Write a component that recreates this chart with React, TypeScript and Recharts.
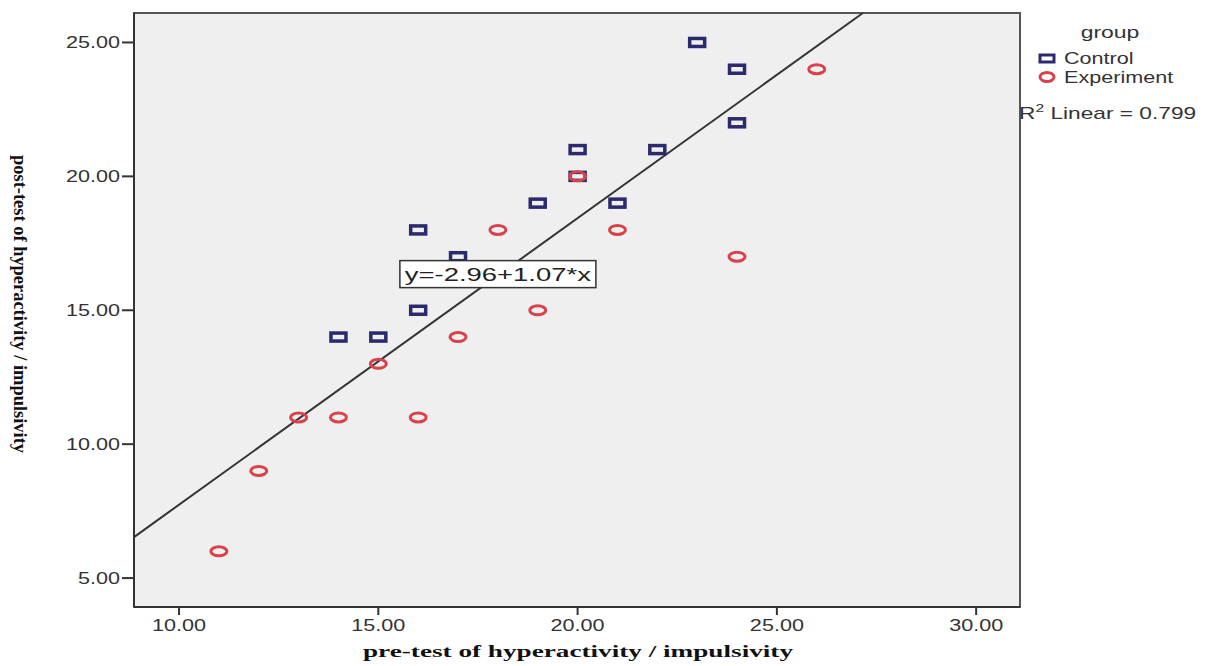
import { ScatterChart, Scatter, XAxis, YAxis, ReferenceArea, ReferenceLine, ReferenceDot } from "recharts";

// pre-test (x) and post-test (y) scores per group
const controlPre = [23, 24, 24, 20, 22, 20, 19, 21, 16, 17, 16, 14, 15];
const controlPost = [25, 24, 22, 21, 21, 20, 19, 19, 18, 17, 15, 14, 14];
const experimentPre = [26, 20, 18, 21, 24, 19, 17, 15, 13, 14, 16, 12, 11];
const experimentPost = [24, 20, 18, 18, 17, 15, 14, 13, 11, 11, 11, 9, 6];

const xTicks = [10, 15, 20, 25, 30];
const yTicks = [5, 10, 15, 20, 25];

// linear fit from the picture
const intercept = -2.96;
const slope = 1.07;
const rSquared = 0.799;

const xDomain: [number, number] = [8.87, 31.1];
const yDomain: [number, number] = [3.92, 26.1];

const control = controlPre.map((x, i) => ({ x, y: controlPost[i] }));
const experiment = experimentPre.map((x, i) => ({ x, y: experimentPost[i] }));

const fitStart = { x: xDomain[0], y: intercept + slope * xDomain[0] };
const fitEnd = { x: (yDomain[1] - intercept) / slope, y: yDomain[1] };

const NAVY = "#2a2a6c";
const RED = "#d8434b";
const SANS = "'Liberation Sans', Arial, sans-serif";
const SERIF = "'Liberation Serif', 'Times New Roman', serif";

function Stretch({ x, y, sx, anchor = "start", size = 17, weight = "normal", family = SANS, fill = "#333", children }: any) {
  return (
    <g transform={`translate(${x},${y}) scale(${sx},1)`}>
      <text x={0} y={0} textAnchor={anchor} fontSize={size} fontWeight={weight} fontFamily={family} fill={fill}>
        {children}
      </text>
    </g>
  );
}

const XTick = (props: any) => (
  <Stretch x={props.x} y={props.y + 14} sx={1.35} anchor="middle" size={16}>
    {props.payload.value.toFixed(2)}
  </Stretch>
);

const YTick = (props: any) => (
  <Stretch x={props.x} y={props.y + 6} sx={1.35} anchor="end" size={16}>
    {props.payload.value.toFixed(2)}
  </Stretch>
);

const square = (props: any) => (
  <rect x={props.cx - 7.5} y={props.cy - 4} width={15} height={8} fill="none" stroke={NAVY} strokeWidth={3.5} />
);

const ring = (props: any) => (
  <ellipse cx={props.cx} cy={props.cy} rx={8} ry={4.5} fill="none" stroke={RED} strokeWidth={3} />
);

const equationBox = (props: any) => (
  <g>
    <rect x={props.cx - 98} y={props.cy - 13.5} width={196} height={27} fill="#fff" stroke="#333" strokeWidth={1.5} />
    <text
      x={props.cx}
      y={props.cy + 7}
      textAnchor="middle"
      fontSize={18}
      fontFamily={SANS}
      fill="#222"
      textLength={186}
      lengthAdjust="spacingAndGlyphs"
    >
      {`y=${intercept.toFixed(2)}+${slope.toFixed(2)}*x`}
    </text>
  </g>
);

export default function App() {
  return (
    <div style={{ position: "absolute", left: 0, top: 0, width: 1221, height: 666, background: "#fff" }}>
      <ScatterChart width={1221} height={666} margin={{ top: 13, right: 201, bottom: 0, left: 0 }}>
        <XAxis
          type="number"
          dataKey="x"
          domain={xDomain}
          ticks={xTicks}
          allowDataOverflow
          height={59}
          tickSize={8}
          tick={XTick}
          axisLine={{ stroke: "#333", strokeWidth: 2 }}
          tickLine={{ stroke: "#333", strokeWidth: 2 }}
        />
        <YAxis
          type="number"
          dataKey="y"
          domain={yDomain}
          ticks={yTicks}
          allowDataOverflow
          width={134}
          tickSize={12}
          tick={YTick}
          axisLine={{ stroke: "#333", strokeWidth: 2 }}
          tickLine={{ stroke: "#333", strokeWidth: 2 }}
        />
        <ReferenceArea
          x1={xDomain[0]}
          x2={xDomain[1]}
          y1={yDomain[0]}
          y2={yDomain[1]}
          fill="#efefef"
          fillOpacity={1}
          stroke="#555"
          strokeWidth={2}
        />
        <ReferenceLine segment={[fitStart, fitEnd]} stroke="#333" strokeWidth={2} />
        <Scatter name="Control" data={control} shape={square} isAnimationActive={false} />
        <Scatter name="Experiment" data={experiment} shape={ring} isAnimationActive={false} />
        <ReferenceDot x={18} y={16.35} shape={equationBox} />
      </ScatterChart>
      <svg width={1221} height={666} style={{ position: "absolute", left: 0, top: 0, pointerEvents: "none" }}>
        <text
          x={578}
          y={657}
          textAnchor="middle"
          fontSize={17}
          fontWeight="bold"
          fontFamily={SERIF}
          fill="#111"
          textLength={430}
          lengthAdjust="spacingAndGlyphs"
        >
          pre-test of hyperactivity / impulsivity
        </text>
        <text
          transform="translate(14,304) rotate(90)"
          textAnchor="middle"
          fontSize={18}
          fontWeight="bold"
          fontFamily={SERIF}
          fill="#111"
          textLength={298}
          lengthAdjust="spacingAndGlyphs"
        >
          post-test of hyperactivity / impulsivity
        </text>
        <Stretch x={1110} y={38} sx={1.35} anchor="middle" size={17}>group</Stretch>
        <rect x={1040} y={55} width={14} height={7} fill="none" stroke={NAVY} strokeWidth={3} />
        <Stretch x={1064} y={64} sx={1.35} size={16}>Control</Stretch>
        <ellipse cx={1047} cy={77} rx={7} ry={4.5} fill="none" stroke={RED} strokeWidth={3} />
        <Stretch x={1064} y={83} sx={1.35} size={16}>Experiment</Stretch>
        <Stretch x={1019} y={119} sx={1.42} size={16}>
          R<tspan fontSize={11} dy={-7}>2</tspan>
          <tspan dy={7}>{` Linear = ${rSquared.toFixed(3)}`}</tspan>
        </Stretch>
      </svg>
    </div>
  );
}
